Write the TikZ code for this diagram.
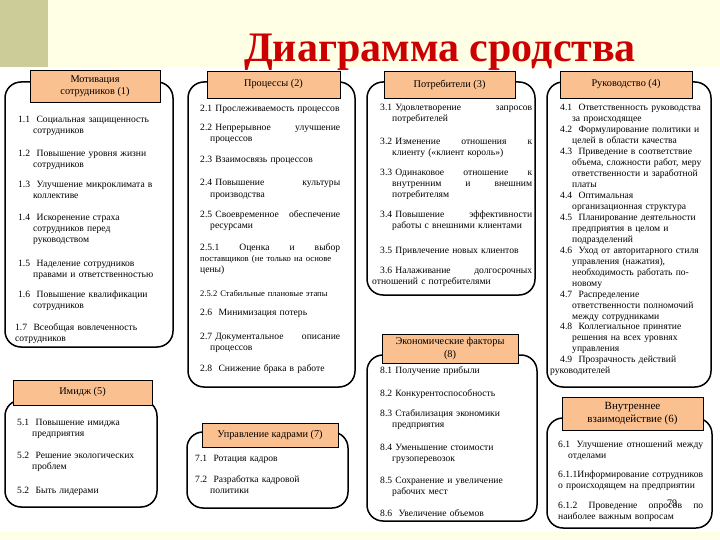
\documentclass[tikz,border=0pt]{standalone}
\usepackage{fontspec}
\setmainfont{Liberation Serif}
\definecolor{cream}{RGB}{255,255,229}
\definecolor{olive}{RGB}{204,204,153}
\definecolor{peach}{RGB}{250,192,144}
\definecolor{titlered}{RGB}{204,0,0}
\begin{document}
\begin{tikzpicture}[x=1pt,y=-1pt,
  grp/.style={draw=black, line width=1.5pt, rounded corners=16pt, inner sep=0pt},
  hdr/.style={draw=black, line width=0.6pt, fill=peach, align=center, inner sep=0pt, font=\fontsize{10.3}{12.5}\selectfont},
  itm/.style={anchor=base west, inner sep=0pt, text width=#1, align=left, font=\fontsize{9.6}{11}\selectfont},
  col4/.style={anchor=base west, inner sep=0pt, text width=#1, align=left, font=\fontsize{9.6}{10.95}\selectfont},
]
\useasboundingbox (0,0) rectangle (720,540);
% background
\fill[cream] (0,0) rectangle (720,540);
\fill[white] (0,67) rectangle (720,532);
\fill[olive] (0,0) rectangle (48,67);
\node[anchor=base, inner sep=0pt, text=titlered, font=\fontsize{42}{46}\selectfont\bfseries] (title) at (440,62) {Диаграмма сродства};

% group boxes
\node[grp, minimum width=168pt, minimum height=265pt] (b1) at (89,214.5) {};
\node[grp, minimum width=167pt, minimum height=305pt] (b2) at (271.5,234.5) {};
\node[grp, minimum width=168pt, minimum height=213pt] (b3) at (451,188.5) {};
\node[grp, minimum width=164pt, minimum height=305pt] (b4) at (629,234.5) {};
\node[grp, minimum width=152pt, minimum height=107pt] (b5) at (81,453.5) {};
\node[grp, minimum width=165pt, minimum height=110pt] (b6) at (629.5,473) {};
\node[grp, minimum width=161pt, minimum height=76pt] (b7) at (267.5,470) {};
\node[grp, minimum width=170pt, minimum height=166pt] (b8) at (452,438) {};

% headers
\node[hdr, minimum width=130pt, minimum height=32pt] (h1) at (95,86) {Мотивация\\сотрудников (1)};
\node[hdr, minimum width=133pt, minimum height=27pt] (h2) at (273.5,84.5) {Процессы (2)};
\node[hdr, minimum width=131pt, minimum height=27pt] (h3) at (449.5,84.5) {Потребители (3)};
\node[hdr, minimum width=132pt, minimum height=27pt] (h4) at (626,84.5) {Руководство (4)};
\node[hdr, minimum width=139pt, minimum height=25pt] (h5) at (82.5,392.5) {Имидж (5)};
\node[hdr, minimum width=141pt, minimum height=33pt, font=\fontsize{11}{13.5}\selectfont] (h6) at (632.5,413.5) {Внутреннее\\взаимодействие (6)};
\node[hdr, minimum width=136pt, minimum height=24pt] (h7) at (270,435) {Управление кадрами (7)};
\node[hdr, minimum width=136pt, minimum height=29pt] (h8) at (450,348.5) {Экономические факторы\\(8)};

% column 1
\node[itm=155pt] (i11) at (18,123) {1.1\ \ Социальная защищенность\\\hspace*{15pt}сотрудников};
\node[itm=155pt] (i12) at (18,157) {1.2\ \ Повышение уровня жизни\\\hspace*{15pt}сотрудников};
\node[itm=155pt] (i13) at (18,188) {1.3\ \ Улучшение микроклимата в\\\hspace*{15pt}коллективе};
\node[itm=155pt] (i14) at (18,221) {1.4\ \ Искоренение страха\\\hspace*{15pt}сотрудников перед\\\hspace*{15pt}руководством};
\node[itm=155pt] (i15) at (18,266) {1.5\ \ Наделение сотрудников\\\hspace*{15pt}правами и ответственностью};
\node[itm=155pt] (i16) at (18,297) {1.6\ \ Повышение квалификации\\\hspace*{15pt}сотрудников};
\node[itm=155pt] (i17) at (15,330) {1.7\ \ Всеобщая вовлеченность\\сотрудников};

% image
\node[itm=135pt] (i51) at (17,425) {5.1\ \ Повышение имиджа\\\hspace*{15pt}предприятия};
\node[itm=135pt] (i52) at (17,458) {5.2\ \ Решение экологических\\\hspace*{15pt}проблем};
\node[itm=135pt] (i53) at (17,493) {5.2\ \ Быть лидерами};

% column 2
\node[itm=140pt] (i21) at (200,112) {2.1 Прослеживаемость процессов};
\node[itm=140pt] (i22) at (200,131) {2.2 Непрерывное\hfill улучшение\\\hspace*{10pt}процессов};
\node[itm=140pt] (i23) at (200,163) {2.3 Взаимосвязь процессов};
\node[itm=140pt] (i24) at (200,186) {2.4 Повышение\hfill культуры\\\hspace*{10pt}производства};
\node[itm=140pt] (i25) at (200,218) {2.5 Своевременное\hfill обеспечение\\\hspace*{10pt}ресурсами};
\node[itm=140pt] (i251) at (200,251) {2.5.1\hfill Оценка\hfill и\hfill выбор\\{\fontsize{8.7}{11}\selectfont поставщиков (не только на основе}\\цены)};
\node[itm=145pt, font=\fontsize{8.6}{11}\selectfont] (i252) at (200,296) {2.5.2 Стабильные плановые этапы};
\node[itm=140pt] (i26) at (200,315) {2.6\ \ Минимизация потерь};
\node[itm=140pt] (i27) at (200,339) {2.7 Документальное\hfill описание\\\hspace*{10pt}процессов};
\node[itm=140pt] (i28) at (200,371) {2.8\ \ Снижение брака в работе};

% staff management
\node[itm=145pt] (i71) at (195,461) {7.1\ \ Ротация кадров};
\node[itm=145pt] (i72) at (195,482) {7.2\ \ Разработка кадровой\\\hspace*{15pt}политики};

% column 3
\node[itm=152pt] (i31) at (380,111) {3.1 Удовлетворение\hfill запросов\\\hspace*{12pt}потребителей};
\node[itm=152pt] (i32) at (380,145) {3.2 Изменение\hfill отношения\hfill к\\\hspace*{12pt}клиенту («клиент король»)};
\node[itm=152pt] (i33) at (380,176) {3.3 Одинаковое\hfill отношение\hfill к\\\hspace*{12pt}внутренним\hfill и\hfill внешним\\\hspace*{12pt}потребителям};
\node[itm=152pt] (i34) at (380,218) {3.4 Повышение\hfill эффективности\\\hspace*{12pt}работы с внешними клиентами};
\node[itm=152pt] (i35) at (380,253) {3.5 Привлечение новых клиентов};
\node[itm=152pt] (i36) at (380,273) {3.6 Налаживание\hfill долгосрочных\\\hspace*{-8pt}отношений с потребителями};

% economic factors
\node[itm=150pt] (i81) at (380,373) {8.1 Получение прибыли};
\node[itm=150pt] (i82) at (380,396) {8.2 Конкурентоспособность};
\node[itm=150pt] (i83) at (380,416) {8.3 Стабилизация экономики\\\hspace*{12pt}предприятия};
\node[itm=150pt] (i84) at (380,450) {8.4 Уменьшение стоимости\\\hspace*{12pt}грузоперевозок};
\node[itm=150pt] (i85) at (380,483) {8.5 Сохранение и увеличение\\\hspace*{12pt}рабочих мест};
\node[itm=150pt] (i86) at (380,516) {8.6\ \ Увеличение объемов};

% column 4
\node[col4=150pt] (i4) at (560,111) {4.1\ \ Ответственность руководства\\\hspace*{12pt}за происходящее\\
4.2\ \ Формулирование политики и\\\hspace*{12pt}целей в области качества\\
4.3\ \ Приведение в соответствие\\\hspace*{12pt}объема, сложности работ, меру\\\hspace*{12pt}ответственности и заработной\\\hspace*{12pt}платы\\
4.4\ \ Оптимальная\\\hspace*{12pt}организационная структура\\
4.5\ \ Планирование деятельности\\\hspace*{12pt}предприятия в целом и\\\hspace*{12pt}подразделений\\
4.6\ \ Уход от авторитарного стиля\\\hspace*{12pt}управления (нажатия),\\\hspace*{12pt}необходимость работать по-\\\hspace*{12pt}новому\\
4.7\ \ Распределение\\\hspace*{12pt}ответственности полномочий\\\hspace*{12pt}между сотрудниками\\
4.8\ \ Коллегиальное принятие\\\hspace*{12pt}решения на всех уровнях\\\hspace*{12pt}управления\\
4.9\ \ Прозрачность действий\\\hspace*{-10pt}руководителей};

% internal interaction
\node[itm=145pt] (i61) at (558,447) {6.1\ \ Улучшение\hfill отношений\hfill между\\\hspace*{10pt}отделами};
\node[itm=145pt] (i611) at (558,477) {6.1.1Информирование сотрудников\\о происходящем на предприятии};
\node[itm=145pt] (i612) at (558,508) {6.1.2\hfill Проведение\hfill опросов\hfill по\\наиболее важным вопросам};
\node[anchor=base, inner sep=0pt, font=\fontsize{10}{12}\selectfont] (pg) at (672,506) {79};
\end{tikzpicture}
\end{document}
